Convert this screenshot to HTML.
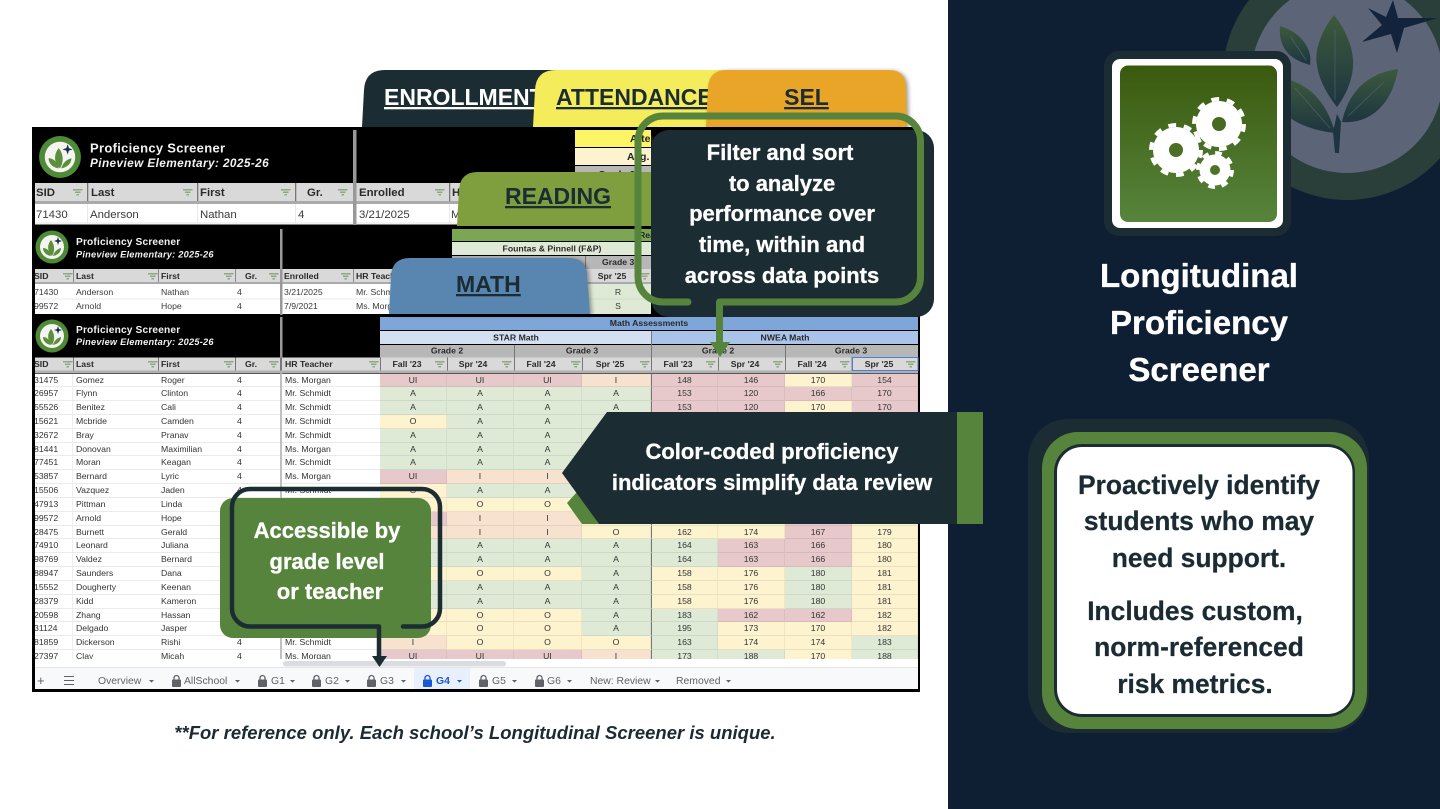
<!DOCTYPE html>
<html lang="en"><head><meta charset="utf-8"><title>Longitudinal Proficiency Screener</title>
<style>
html,body{margin:0;padding:0;width:1440px;height:809px;overflow:hidden;background:#fff}
svg{position:absolute;left:0;top:0}
text{font-family:"Liberation Sans",sans-serif}
#rows{position:absolute;left:35px;top:373.5px;width:883px;height:285.5px;overflow:hidden;z-index:2;font:8.7px/13.83px "Liberation Sans",sans-serif;color:#333;background:#fff}
.r{display:grid;grid-template-columns:38px 85px 77px 45px 2px 98px 67px 67px 68px 69px 67px 67px 67px 66px;height:13.83px}
.r>*{font-style:normal;font-weight:normal;box-sizing:border-box;border-bottom:1px solid #eaeaea;white-space:nowrap;overflow:hidden;padding-left:3px}
.r>u{background:#c0c0c0;padding:0;border:0;text-decoration:none}
.r>:first-child{padding-left:0;text-indent:-1px;border-right:1px solid #eee}
.r>:nth-child(4){padding-left:2px}
.r>b{text-align:center;padding:0;border-right:1px solid rgba(0,0,0,.05);border-bottom:1px solid rgba(0,0,0,.07)}
.p{background:#e8c9cb}.g{background:#deead6}.y{background:#fdf3cf}.o{background:#f6e2cf}
.n{border-left:1px solid #777}
.cal text{font-weight:bold;fill:#fff;stroke:#fff;stroke-width:.3;font-size:22px;text-anchor:middle}
.tab text{font-weight:bold;font-size:23px;text-decoration:underline}
.h{font-weight:bold;font-size:8.7px;fill:#2a2a2a}
.c{text-anchor:middle}
.tb{font-size:10.4px;fill:#5f6368}
</style></head>
<body>
<svg width="1440" height="809" style="z-index:1">
<defs>
<path id="f" d="M0 0h9.500v1.500H0zM2 2.500h5.500V4H2zM3.500 5h2.500v1.500H3.500z" fill="#8fa882"/>
<g id="lg"><circle r="16.5" fill="#4f8a36"/><circle r="12" fill="#f4f4f0"/><path d="M0 9C-5 4-5-2-1-7 3-2 3 4 0 9zM-1 9C-7 8-9 4-9 1-5 1-2 4-1 9zM1 9C2 5 5 2 9 1 9 5 6 8 1 9z" fill="#5c8f3c"/><path d="M6-10l1 3 3 1-3 1-1 3-1-3-3-1 3-1z" fill="#1b2b4a"/></g>
</defs>
<rect width="948" height="809" fill="#fff"/>
<rect x="948" width="492" height="809" fill="#0f1f33"/>

<!-- sheet base -->
<rect x="32" y="127" width="888" height="565" fill="#000"/>

<!-- sheet 1 -->
<use href="#lg" transform="translate(60 157) scale(1.27)"/>
<text x="90" y="152.5" font-size="13" font-weight="bold" fill="#f2f2f2" letter-spacing=".3">Proficiency Screener</text>
<text x="90" y="167" font-size="11.8" font-weight="bold" font-style="italic" fill="#f2f2f2" letter-spacing=".4">Pineview Elementary: 2025-26</text>
<rect x="35" y="183" width="600" height="18" fill="#d9d9d9"/>
<rect x="35" y="201" width="600" height="3" fill="#aaa"/>
<rect x="35" y="204" width="600" height="20.5" fill="#fff"/>
<rect x="35" y="222.5" width="600" height="1" fill="#e6e6e6"/>
<g fill="#777"><rect x="87" y="183" width="1.3" height="18"/><rect x="197" y="183" width="1.3" height="18"/><rect x="295" y="183" width="1.3" height="18"/><rect x="449" y="183" width="1.3" height="18"/></g>
<g fill="#eaeaea"><rect x="87" y="204" width="1" height="20"/><rect x="197" y="204" width="1" height="20"/><rect x="295" y="204" width="1" height="20"/><rect x="449" y="204" width="1" height="20"/></g>
<rect x="353" y="130" width="3.5" height="95" fill="#999"/>
<g font-size="11.4" font-weight="bold" fill="#2a2a2a"><text x="36" y="196">SID</text><text x="91" y="196">Last</text><text x="200" y="196">First</text><text x="307" y="196">Gr.</text><text x="359" y="196">Enrolled</text><text x="452" y="196">HR</text></g>
<g font-size="11.4" fill="#3a3a3a"><text x="36" y="218">71430</text><text x="90" y="218">Anderson</text><text x="200" y="218">Nathan</text><text x="298" y="218">4</text><text x="359" y="218">3/21/2025</text><text x="451" y="218">Ms. Morgan</text></g>
<g transform="translate(0 189)"><use href="#f" x="73"/><use href="#f" x="183"/><use href="#f" x="281"/><use href="#f" x="338"/><use href="#f" x="435"/></g>

<!-- attendance sliver -->
<rect x="575" y="130" width="76" height="17" fill="#fdf566"/>
<rect x="575" y="148" width="76" height="17" fill="#fdf3cf"/>
<rect x="575" y="166" width="76" height="17" fill="#b7b7b7"/>
<text x="630" y="142" font-size="10.5" font-weight="bold" fill="#222">Attendance</text>
<text x="627" y="160" font-size="10.5" font-weight="bold" fill="#222">Avg. Daily</text>
<text x="598" y="178" font-size="10" font-weight="bold" fill="#222">Grade 2</text>

<!-- sheet 2 -->
<use href="#lg" transform="translate(52 247)"/>
<text x="76" y="245" font-size="10.2" font-weight="bold" fill="#f2f2f2" letter-spacing=".15">Proficiency Screener</text>
<text x="76" y="257.5" font-size="9.2" font-weight="bold" font-style="italic" fill="#f2f2f2" letter-spacing=".25">Pineview Elementary: 2025-26</text>
<rect x="35" y="269" width="417" height="13" fill="#d9d9d9"/>
<rect x="35" y="282" width="417" height="2" fill="#aaa"/>
<rect x="35" y="284" width="417" height="30" fill="#fff"/>
<rect x="35" y="298.5" width="417" height="1" fill="#e8e8e8"/>
<rect x="280" y="229" width="2.5" height="86" fill="#999"/>
<g fill="#888"><rect x="73" y="269" width="1" height="13"/><rect x="158" y="269" width="1" height="13"/><rect x="235" y="269" width="1" height="13"/><rect x="353" y="269" width="1" height="13"/></g>
<g class="h"><text x="34" y="279" class="h">SID</text><text x="76" y="279" class="h">Last</text><text x="161" y="279" class="h">First</text><text x="245" y="279" class="h">Gr.</text><text x="284" y="279" class="h">Enrolled</text><text x="356" y="279" class="h">HR Teacher</text></g>
<g font-size="8.7" fill="#3a3a3a"><text x="34" y="295">71430</text><text x="76" y="295">Anderson</text><text x="161" y="295">Nathan</text><text x="237" y="295">4</text><text x="284" y="295">3/21/2025</text><text x="356" y="295">Mr. Schmidt</text><text x="34" y="309">99572</text><text x="76" y="309">Arnold</text><text x="161" y="309">Hope</text><text x="237" y="309">4</text><text x="284" y="309">7/9/2021</text><text x="356" y="309">Ms. Morgan</text></g>
<g transform="translate(0 273)"><use href="#f" x="63"/><use href="#f" x="148"/><use href="#f" x="224"/><use href="#f" x="269"/><use href="#f" x="341"/></g>

<!-- reading sheet -->
<rect x="452" y="229" width="199" height="12" fill="#7ba653"/>
<rect x="452" y="242" width="199" height="13" fill="#deead6"/>
<rect x="452" y="256" width="199" height="13" fill="#b7b7b7"/>
<rect x="452" y="269" width="199" height="13" fill="#d9d9d9"/>
<rect x="452" y="282" width="199" height="2" fill="#aaa"/>
<rect x="452" y="284" width="199" height="30" fill="#deead6"/>
<rect x="452" y="298.5" width="199" height="1" fill="#cfdcc6"/>
<rect x="585" y="256" width="1" height="26" fill="#777"/>
<text x="639" y="238" font-size="8.7" font-weight="bold" fill="#222">Reading</text>
<text x="552" y="251.5" class="h c">Fountas &amp; Pinnell (F&amp;P)</text>
<text x="602" y="265" class="h">Grade 3</text>
<text x="612" y="279" class="h c">Spr '25</text>
<use href="#f" x="640" y="273"/>
<text x="618" y="295" font-size="8.7" fill="#3a3a3a" class="c">R</text>
<text x="618" y="309" font-size="8.7" fill="#3a3a3a" class="c">S</text>

<!-- sheet 3 header -->
<use href="#lg" transform="translate(52 336)"/>
<text x="76" y="333" font-size="10.2" font-weight="bold" fill="#f2f2f2" letter-spacing=".15">Proficiency Screener</text>
<text x="76" y="345" font-size="9.2" font-weight="bold" font-style="italic" fill="#f2f2f2" letter-spacing=".25">Pineview Elementary: 2025-26</text>
<rect x="280" y="317" width="2.5" height="343" fill="#999"/>
<rect x="380" y="317" width="538" height="13" fill="#7ea6d9"/>
<rect x="380" y="331" width="271" height="13" fill="#d2e0f2"/>
<rect x="651" y="331" width="267" height="13" fill="#a9c4e8"/>
<rect x="380" y="345" width="538" height="12.5" fill="#b7b7b7"/>
<rect x="35" y="357.5" width="883" height="13" fill="#d9d9d9"/>
<rect x="35" y="370.5" width="883" height="3" fill="#b0b0b0"/>
<g fill="#777"><rect x="73" y="357.5" width="1" height="13"/><rect x="158" y="357.5" width="1" height="13"/><rect x="235" y="357.5" width="1" height="13"/><rect x="280" y="357.5" width="2" height="13"/><rect x="380" y="357.5" width="1" height="13"/><rect x="447" y="357.5" width="1" height="13"/><rect x="514" y="345" width="1" height="25.5"/><rect x="582" y="357.5" width="1" height="13"/><rect x="651" y="331" width="1" height="39.5"/><rect x="718" y="357.5" width="1" height="13"/><rect x="785" y="345" width="1" height="25.5"/><rect x="852" y="357.5" width="1" height="13"/></g>
<text x="649" y="326" class="h c">Math Assessments</text>
<text x="516" y="340.5" class="h c">STAR Math</text><text x="785" y="340.5" class="h c">NWEA Math</text>
<text x="447" y="353.5" class="h c">Grade 2</text><text x="582" y="353.5" class="h c">Grade 3</text><text x="718" y="353.5" class="h c">Grade 2</text><text x="851" y="353.5" class="h c">Grade 3</text>
<g><text x="34" y="367" class="h">SID</text><text x="76" y="367" class="h">Last</text><text x="161" y="367" class="h">First</text><text x="245" y="367" class="h">Gr.</text><text x="285" y="367" class="h">HR Teacher</text>
<text x="407" y="367" class="h c">Fall '23</text><text x="473" y="367" class="h c">Spr '24</text><text x="541" y="367" class="h c">Fall '24</text><text x="610" y="367" class="h c">Spr '25</text><text x="678" y="367" class="h c">Fall '23</text><text x="745" y="367" class="h c">Spr '24</text><text x="812" y="367" class="h c">Fall '24</text><text x="879" y="367" class="h c">Spr '25</text></g>
<g transform="translate(0 361)"><use href="#f" x="63"/><use href="#f" x="148"/><use href="#f" x="224"/><use href="#f" x="269"/><use href="#f" x="369"/><use href="#f" x="435"/><use href="#f" x="502"/><use href="#f" x="571"/><use href="#f" x="640"/><use href="#f" x="706"/><use href="#f" x="773"/><use href="#f" x="840"/><use href="#f" x="906"/></g>
<rect x="852" y="357.5" width="66" height="13" fill="none" stroke="#4a7fe0" stroke-width="1"/>

<!-- bottom bars -->
<rect x="35" y="659" width="883" height="8" fill="#fff"/>
<rect x="283" y="661" width="223" height="5.5" rx="2.7" fill="#dadce0"/>
<rect x="35" y="667" width="883" height="22" fill="#f8f9fa"/>
<rect x="35" y="667" width="883" height=".8" fill="#e0e0e0"/>
<rect x="414" y="668" width="56" height="21" fill="#e8f0fe"/>
<defs>
<g id="lk"><path d="M2 5V3a2.5 2.5 0 0 1 5 0v2" fill="none" stroke-width="1.3" stroke="currentColor"/><rect y="4.5" width="9" height="7.5" rx="1" fill="currentColor"/></g>
<path id="ct" d="M0 0h5L2.5 2.6z"/>
</defs>
<g color="#5f6368" fill="#5f6368">
<text x="37" y="685" font-size="13" fill="#5f6368">+</text>
<path d="M64 676h10v1H64zM64 680h10v1H64zM64 684h10v1H64z"/>
<use href="#lk" x="172" y="675"/><use href="#lk" x="258" y="675"/><use href="#lk" x="312" y="675"/><use href="#lk" x="367" y="675"/><use href="#lk" x="479" y="675"/><use href="#lk" x="535" y="675"/>
<g><use href="#ct" x="149" y="680"/><use href="#ct" x="235" y="680"/><use href="#ct" x="290" y="680"/><use href="#ct" x="345" y="680"/><use href="#ct" x="401" y="680"/><use href="#ct" x="512" y="680"/><use href="#ct" x="567" y="680"/><use href="#ct" x="655" y="680"/><use href="#ct" x="726" y="680"/></g>
</g>
<g class="tb"><text class="tb" x="98" y="684">Overview</text><text class="tb" x="184" y="684">AllSchool</text><text class="tb" x="271" y="684">G1</text><text class="tb" x="325" y="684">G2</text><text class="tb" x="380" y="684">G3</text><text class="tb" x="492" y="684">G5</text><text class="tb" x="547" y="684">G6</text><text class="tb" x="590" y="684">New: Review</text><text class="tb" x="676" y="684">Removed</text></g>
<g color="#1a56d6" fill="#1a56d6"><use href="#lk" x="423" y="675"/><use href="#ct" x="457" y="680"/><text x="436" y="684" font-size="10.4" font-weight="bold">G4</text></g>

<!-- footnote -->
<text x="475" y="739" font-size="18.5" font-weight="bold" font-style="italic" fill="#1b2b33" text-anchor="middle">**For reference only. Each school’s Longitudinal Screener is unique.</text>

<!-- right panel background logo -->
<circle cx="1347" cy="76" r="124" fill="#2a3f3a"/>
<circle cx="1347" cy="77" r="96" fill="#5b6577"/>
<defs><linearGradient id="lf" x1="0" y1="0" x2="0" y2="1"><stop offset="0" stop-color="#3d5a3c"/><stop offset="1" stop-color="#1c3540"/></linearGradient>
<linearGradient id="gr" x1="0" y1="0" x2="0" y2="1"><stop offset="0" stop-color="#3a5a0e"/><stop offset="1" stop-color="#57843c"/></linearGradient></defs>
<g fill="url(#lf)">
<path d="M1334 15C1322 30 1314 50 1317 65 1319 82 1330 98 1337 107 1346 95 1354 78 1353 60 1352 42 1342 25 1334 15z"/>
<path d="M1280 26C1300 32 1313 48 1310 65 1292 60 1278 50 1280 26z"/>
<path d="M1398 69C1376 72 1350 84 1342 122 1370 124 1392 105 1398 69z"/>
<path d="M1280 78C1310 82 1328 105 1335 133 1310 130 1290 122 1280 108z"/>
</g>
<path d="M1333 132L1337 114 1341 122 1339 153 1335 153z" fill="#1c3540"/>
<g fill="none" stroke="#5b6577" stroke-width=".8" opacity=".7"><path d="M1335 30V100"/><path d="M1290 36L1306 60"/><path d="M1384 82L1348 116"/><path d="M1295 88L1330 128"/></g>
<path d="M1393 0L1398 18 1438 18 1404 28 1397 53 1391 34 1362 42 1382 25 1368 8 1386 17z" fill="#14233c"/>

<!-- icon tile -->
<rect x="1104" y="51" width="187" height="185" rx="15" fill="#1b2c33"/>
<rect x="1112" y="59" width="171" height="169" rx="8" fill="#fff"/>
<rect x="1120" y="65.5" width="157" height="156.5" rx="8" fill="url(#gr)"/>
<g fill="#fff" stroke="#fff">
<circle cx="1219" cy="124" r="23" stroke="none"/><circle cx="1219" cy="124" r="25" fill="none" stroke-width="4" stroke-dasharray="7.85 7.85"/>
<circle cx="1176" cy="150" r="23" stroke="none"/><circle cx="1176" cy="150" r="25" fill="none" stroke-width="4" stroke-dasharray="7.85 7.85"/>
<circle cx="1215" cy="170" r="15.5" stroke="none"/><circle cx="1215" cy="170" r="17" fill="none" stroke-width="4" stroke-dasharray="6.68 6.68"/>
</g>
<circle cx="1219" cy="124" r="7" fill="#466a1f"/><circle cx="1176" cy="150" r="7" fill="#4a6f25"/><circle cx="1215" cy="170" r="5" fill="#4d7329"/>

<!-- title -->
<g font-size="33" font-weight="bold" fill="#fff" stroke="#fff" stroke-width=".35" text-anchor="middle"><text x="1199" y="287">Longitudinal</text><text x="1199" y="334">Proficiency</text><text x="1199" y="381">Screener</text></g>

<!-- text box -->
<rect x="1028" y="419" width="341" height="314" rx="40" fill="#1b2c33"/>
<rect x="1042" y="432" width="325" height="297" rx="36" fill="#57843c"/>
<rect x="1054" y="444" width="301" height="273" rx="28" fill="#1b2c33"/>
<rect x="1057" y="447" width="295.500" height="267" rx="25" fill="#fff"/>
<g font-size="26.4" font-weight="bold" fill="#1b2b33" stroke="#1b2b33" stroke-width=".25" text-anchor="middle"><text x="1199" y="494">Proactively identify</text><text x="1199" y="530">students who may</text><text x="1199" y="567">need support.</text><text x="1195" y="620">Includes custom,</text><text x="1199" y="656">norm-referenced</text><text x="1195" y="693">risk metrics.</text></g>
</svg>

<div id="rows">
<div class="r"><i>31475</i><i>Gomez</i><i>Roger</i><i>4</i><u></u><i>Ms. Morgan</i><b class="p">UI</b><b class="p">UI</b><b class="p">UI</b><b class="o">I</b><b class="p n">148</b><b class="p">146</b><b class="y">170</b><b class="p">154</b></div>
<div class="r"><i>26957</i><i>Flynn</i><i>Clinton</i><i>4</i><u></u><i>Mr. Schmidt</i><b class="g">A</b><b class="g">A</b><b class="g">A</b><b class="g">A</b><b class="p n">153</b><b class="p">120</b><b class="p">166</b><b class="p">170</b></div>
<div class="r"><i>55526</i><i>Benitez</i><i>Cali</i><i>4</i><u></u><i>Mr. Schmidt</i><b class="g">A</b><b class="g">A</b><b class="g">A</b><b class="g">A</b><b class="p n">153</b><b class="p">120</b><b class="y">170</b><b class="p">170</b></div>
<div class="r"><i>15621</i><i>Mcbride</i><i>Camden</i><i>4</i><u></u><i>Mr. Schmidt</i><b class="y">O</b><b class="g">A</b><b class="g">A</b><b class="g">A</b><b class="p n">153</b><b class="p">120</b><b class="y">170</b><b class="p">170</b></div>
<div class="r"><i>32672</i><i>Bray</i><i>Pranav</i><i>4</i><u></u><i>Mr. Schmidt</i><b class="g">A</b><b class="g">A</b><b class="g">A</b><b class="g">A</b><b class="p n">153</b><b class="p">120</b><b class="y">170</b><b class="p">170</b></div>
<div class="r"><i>81441</i><i>Donovan</i><i>Maximilian</i><i>4</i><u></u><i>Ms. Morgan</i><b class="g">A</b><b class="g">A</b><b class="g">A</b><b class="g">A</b><b class="p n">153</b><b class="p">120</b><b class="y">170</b><b class="p">170</b></div>
<div class="r"><i>77451</i><i>Moran</i><i>Keagan</i><i>4</i><u></u><i>Mr. Schmidt</i><b class="g">A</b><b class="g">A</b><b class="g">A</b><b class="g">A</b><b class="p n">153</b><b class="p">120</b><b class="y">170</b><b class="p">170</b></div>
<div class="r"><i>53857</i><i>Bernard</i><i>Lyric</i><i>4</i><u></u><i>Ms. Morgan</i><b class="p">UI</b><b class="o">I</b><b class="o">I</b><b class="o">I</b><b class="p n">153</b><b class="p">120</b><b class="y">170</b><b class="p">170</b></div>
<div class="r"><i>15506</i><i>Vazquez</i><i>Jaden</i><i>4</i><u></u><i>Mr. Schmidt</i><b class="y">O</b><b class="g">A</b><b class="g">A</b><b class="g">A</b><b class="p n">153</b><b class="p">120</b><b class="y">170</b><b class="p">170</b></div>
<div class="r"><i>47913</i><i>Pittman</i><i>Linda</i><i>4</i><u></u><i>Ms. Morgan</i><b class="y">O</b><b class="y">O</b><b class="y">O</b><b class="y">O</b><b class="y n">160</b><b class="y">170</b><b class="p">165</b><b class="y">175</b></div>
<div class="r"><i>99572</i><i>Arnold</i><i>Hope</i><i>4</i><u></u><i>Ms. Morgan</i><b class="p">UI</b><b class="o">I</b><b class="o">I</b><b class="y">O</b><b class="y n">160</b><b class="y">170</b><b class="p">165</b><b class="y">175</b></div>
<div class="r"><i>28475</i><i>Burnett</i><i>Gerald</i><i>4</i><u></u><i>Mr. Schmidt</i><b class="o">I</b><b class="o">I</b><b class="o">I</b><b class="y">O</b><b class="y n">162</b><b class="y">174</b><b class="p">167</b><b class="y">179</b></div>
<div class="r"><i>74910</i><i>Leonard</i><i>Juliana</i><i>4</i><u></u><i>Mr. Schmidt</i><b class="g">A</b><b class="g">A</b><b class="g">A</b><b class="g">A</b><b class="g n">164</b><b class="p">163</b><b class="p">166</b><b class="y">180</b></div>
<div class="r"><i>98769</i><i>Valdez</i><i>Bernard</i><i>4</i><u></u><i>Mr. Schmidt</i><b class="g">A</b><b class="g">A</b><b class="g">A</b><b class="g">A</b><b class="g n">164</b><b class="p">163</b><b class="p">166</b><b class="y">180</b></div>
<div class="r"><i>88947</i><i>Saunders</i><i>Dana</i><i>4</i><u></u><i>Mr. Schmidt</i><b class="y">O</b><b class="y">O</b><b class="y">O</b><b class="g">A</b><b class="y n">158</b><b class="y">176</b><b class="g">180</b><b class="y">181</b></div>
<div class="r"><i>15552</i><i>Dougherty</i><i>Keenan</i><i>4</i><u></u><i>Mr. Schmidt</i><b class="g">A</b><b class="g">A</b><b class="g">A</b><b class="g">A</b><b class="y n">158</b><b class="y">176</b><b class="g">180</b><b class="y">181</b></div>
<div class="r"><i>28379</i><i>Kidd</i><i>Kameron</i><i>4</i><u></u><i>Mr. Schmidt</i><b class="g">A</b><b class="g">A</b><b class="g">A</b><b class="g">A</b><b class="y n">158</b><b class="y">176</b><b class="g">180</b><b class="y">181</b></div>
<div class="r"><i>20598</i><i>Zhang</i><i>Hassan</i><i>4</i><u></u><i>Mr. Schmidt</i><b class="y">O</b><b class="y">O</b><b class="y">O</b><b class="g">A</b><b class="g n">183</b><b class="p">162</b><b class="p">162</b><b class="y">182</b></div>
<div class="r"><i>31124</i><i>Delgado</i><i>Jasper</i><i>4</i><u></u><i>Mr. Schmidt</i><b class="y">O</b><b class="y">O</b><b class="y">O</b><b class="g">A</b><b class="g n">195</b><b class="y">173</b><b class="y">170</b><b class="y">182</b></div>
<div class="r"><i>81859</i><i>Dickerson</i><i>Rishi</i><i>4</i><u></u><i>Mr. Schmidt</i><b class="o">I</b><b class="y">O</b><b class="y">O</b><b class="y">O</b><b class="g n">163</b><b class="y">174</b><b class="y">174</b><b class="g">183</b></div>
<div class="r"><i>27397</i><i>Clay</i><i>Micah</i><i>4</i><u></u><i>Ms. Morgan</i><b class="p">UI</b><b class="p">UI</b><b class="p">UI</b><b class="o">I</b><b class="g n">173</b><b class="g">188</b><b class="y">170</b><b class="g">188</b></div>
</div>

<svg width="1440" height="809" style="z-index:3">
<!-- tabs -->
<g class="tab">
<path d="M362 127L364 90Q365 70 385 70H560V127Z" fill="#1b2c33"/>
<text x="384" y="105" fill="#fff">ENROLLMENT</text>
<path d="M533 127L535 90Q536 70 556 70H730V127Z" fill="#f5ec5b"/>
<text x="556" y="105" fill="#1b2c33">ATTENDANCE</text>
<g style="filter:drop-shadow(2px 1px 2px rgba(0,0,0,.4))"><path d="M706 127L708 88Q709 70 727 70H889Q906 70 906 88L907 127Z" fill="#e9a528"/></g>
<text x="806.500" y="105" fill="#1b2c33" text-anchor="middle">SEL</text>
<path d="M457 226L459 190Q460 172 478 172H660V226Z" fill="#7f9f3f"/>
<text x="505" y="204" fill="#1b2c33">READING</text>
<g style="filter:drop-shadow(2px 1px 2px rgba(0,0,0,.4))"><path d="M389 314L391 276Q392 258 410 258H568Q587 258 587 276L590 314Z" fill="#5886b0"/></g>
<text x="456" y="292" fill="#1b2c33">MATH</text>
</g>

<!-- callout 1 -->
<rect x="651" y="130" width="283" height="187" rx="18" fill="#1b2c33"/>
<path d="M688 302H663A25 25 0 0 1 638 277V141A25 25 0 0 1 663 116H895.500A25 25 0 0 1 920.500 141V277A25 25 0 0 1 895.500 302H719.500V345" fill="none" stroke="#57843c" stroke-width="7" stroke-linecap="round" stroke-linejoin="round"/>
<path d="M710 342H730L720 357Z" fill="#57843c"/>
<g class="cal"><text x="780" y="160">Filter and sort</text><text x="782" y="191">to analyze</text><text x="782" y="221">performance over</text><text x="782" y="252">time, within and</text><text x="782" y="283">across data points</text></g>

<!-- callout 2 -->
<path d="M567 503L577 492 599 524H582Z" fill="#57843c"/>
<rect x="957" y="412" width="26" height="112" fill="#57843c"/>
<path d="M562 473L607 412H957V524H599Z" fill="#1b2c33"/>
<g class="cal"><text x="772" y="459">Color-coded proficiency</text><text x="772" y="490">indicators simplify data review</text></g>

<!-- callout 3 -->
<rect x="220" y="498" width="211" height="140" rx="13" fill="#57843c"/>
<path d="M403 626.500H422A18 18 0 0 0 440 608.500V507A18 18 0 0 0 422 489H250A18 18 0 0 0 232 507V608.500A18 18 0 0 0 250 626.500H379V658" fill="none" stroke="#1b2c33" stroke-width="4.500" stroke-linecap="round" stroke-linejoin="round"/>
<path d="M372 656H387L379.500 667Z" fill="#1b2c33"/>
<g class="cal"><text x="327" y="538">Accessible by</text><text x="327" y="569">grade level</text><text x="330" y="599">or teacher</text></g>
</svg>
</body></html>
